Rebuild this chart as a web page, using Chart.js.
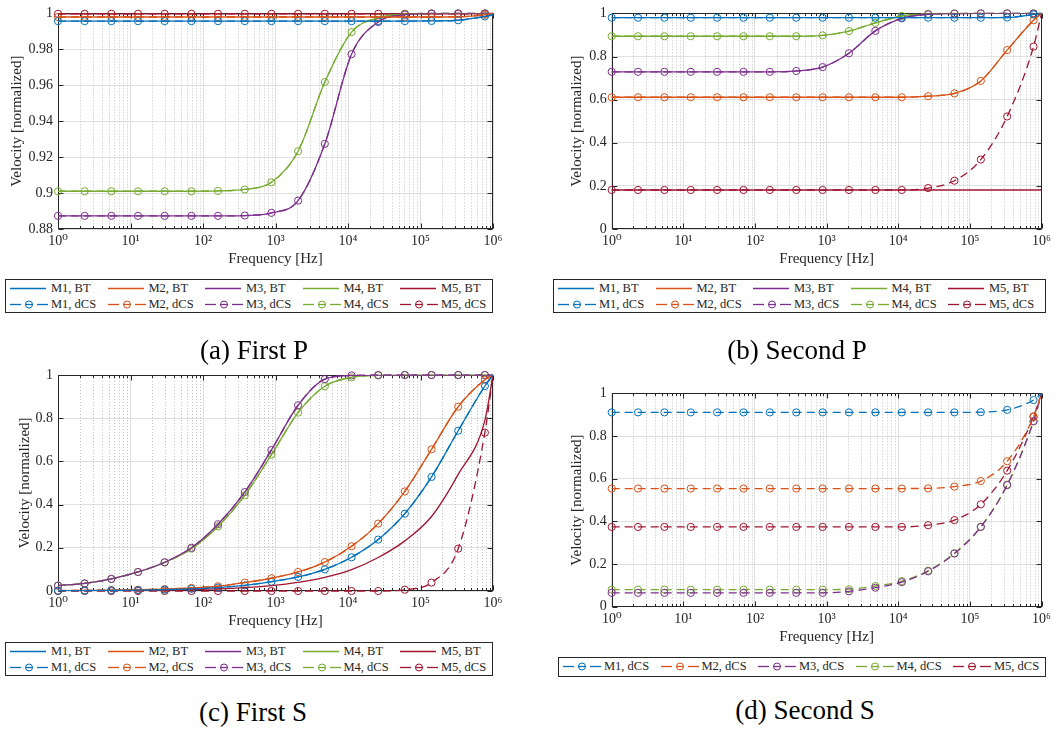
<!DOCTYPE html>
<html>
<head>
<meta charset="utf-8">
<script src="https://cdn.jsdelivr.net/npm/chart.js@4.4.1/dist/chart.umd.min.js"></script>
<style>
  body { margin: 0; background: #fff; }
  #page { position: relative; width: 1055px; height: 730px; overflow: hidden; font-family: 'Liberation Serif', 'DejaVu Serif', serif; color: #262626; }
  .plot { position: absolute; }
  .legend { position: absolute; border: 1px solid #262626; background: #fff; box-sizing: border-box; display: grid; grid-template-columns: repeat(5, 97.5px); padding: 1px 0 0 4px; font-size: 12.5px; }
  .item { display: flex; align-items: center; height: 15px; white-space: nowrap; }
  .item svg { margin-right: 3px; flex: none; }
  .caption { position: absolute; width: 400px; text-align: center; font-size: 27px; line-height: 30px; color: #000; }
</style>
</head>
<body>
<div id="page">
  <div class="plot" style="left:0;top:0;"><canvas id="chartA" width="510" height="268"></canvas></div>
  <div class="plot" style="left:530px;top:0;"><canvas id="chartB" width="525" height="268"></canvas></div>
  <div class="plot" style="left:0;top:360px;"><canvas id="chartC" width="510" height="270"></canvas></div>
  <div class="plot" style="left:530px;top:380px;"><canvas id="chartD" width="525" height="266"></canvas></div>

  <div class="legend" id="legendA" style="left:5px;top:279px;width:488px;height:34px;"></div>
  <div class="legend" id="legendB" style="left:553px;top:279px;width:493px;height:34px;"></div>
  <div class="legend" id="legendC" style="left:5px;top:642px;width:488px;height:34px;"></div>
  <div class="legend" id="legendD" style="left:558px;top:657px;width:488px;height:20px;"></div>

  <div class="caption" style="left:54px;top:335px;">(a) First P</div>
  <div class="caption" style="left:597px;top:335px;">(b) Second P</div>
  <div class="caption" style="left:53px;top:697px;">(c) First S</div>
  <div class="caption" style="left:605px;top:695px;">(d) Second S</div>
</div>

<script>
// frequencies of the markers (last entry is the curve end at 1e6, no marker)
var freqs = [1, 2.33, 5.44, 12.7, 29.6, 69.2, 161, 377, 879, 2050, 4790, 11200, 26100, 60800, 142000, 331000, 773000, 1000000];
var markerCount = 17;

var decadeTicks = [1, 10, 100, 1000, 10000, 100000, 1000000];
var xTickLabels = ['10⁰', '10¹', '10²', '10³', '10⁴', '10⁵', '10⁶'];
var yTicksA = [0.88, 0.9, 0.92, 0.94, 0.96, 0.98, 1];
var yTickLabelsA = ['0.88', '0.9', '0.92', '0.94', '0.96', '0.98', '1'];
var yTicksUnit = [0, 0.2, 0.4, 0.6, 0.8, 1];
var yTickLabelsUnit = ['0', '0.2', '0.4', '0.6', '0.8', '1'];

var names = ['M1', 'M2', 'M3', 'M4', 'M5'];
var colors = ['#0072BD', '#D95319', '#7E2F8E', '#77AC30', '#A2142F'];

// (a) First P
var aM1bt  = [0.9957, 0.9957, 0.9957, 0.9957, 0.9957, 0.9957, 0.9957, 0.9957, 0.9957, 0.9957, 0.9957, 0.9957, 0.9957, 0.9957, 0.9958, 0.9962, 0.9983, 0.9992];
var aM2bt  = [0.998, 0.998, 0.998, 0.998, 0.998, 0.998, 0.998, 0.998, 0.998, 0.998, 0.998, 0.998, 0.998, 0.998, 0.998, 0.9981, 0.9992, 1];
var aM3bt  = [0.8873, 0.8873, 0.8873, 0.8873, 0.8873, 0.8873, 0.8873, 0.8875, 0.889, 0.8958, 0.9274, 0.9773, 0.9952, 0.9993, 1, 1, 1, 1];
var aM4bt  = [0.901, 0.901, 0.901, 0.901, 0.901, 0.901, 0.9012, 0.902, 0.906, 0.9233, 0.9618, 0.9896, 0.9976, 0.9997, 1, 1, 1, 1];
var aM5bt  = [0.9998, 0.9998, 0.9998, 0.9998, 0.9998, 0.9998, 0.9998, 0.9998, 0.9998, 0.9998, 0.9998, 0.9998, 0.9998, 0.9998, 0.9998, 0.9998, 0.9999, 1];
var aM1dcs = [0.9957, 0.9957, 0.9957, 0.9957, 0.9957, 0.9957, 0.9957, 0.9957, 0.9957, 0.9957, 0.9957, 0.9957, 0.9957, 0.9957, 0.9958, 0.9962, 0.9983, 0.9992];
var aM2dcs = [0.998, 0.998, 0.998, 0.998, 0.998, 0.998, 0.998, 0.998, 0.998, 0.998, 0.998, 0.998, 0.998, 0.998, 0.998, 0.9981, 0.9992, 1];
var aM3dcs = [0.8873, 0.8873, 0.8873, 0.8873, 0.8873, 0.8873, 0.8873, 0.8875, 0.889, 0.8958, 0.9274, 0.9773, 0.9952, 0.9993, 1, 1, 1, 1];
var aM4dcs = [0.901, 0.901, 0.901, 0.901, 0.901, 0.901, 0.9012, 0.902, 0.906, 0.9233, 0.9618, 0.9896, 0.9976, 0.9997, 1, 1, 1, 1];
var aM5dcs = [0.9998, 0.9998, 0.9998, 0.9998, 0.9998, 0.9998, 0.9998, 0.9998, 0.9998, 0.9998, 0.9998, 0.9998, 0.9998, 0.9998, 0.9998, 0.9998, 0.9999, 1];

// (b) Second P
var bM1bt  = [0.98, 0.98, 0.98, 0.98, 0.98, 0.98, 0.98, 0.98, 0.98, 0.98, 0.98, 0.98, 0.98, 0.98, 0.98, 0.981, 0.995, 1];
var bM2bt  = [0.611, 0.611, 0.611, 0.611, 0.611, 0.611, 0.611, 0.611, 0.611, 0.611, 0.611, 0.611, 0.616, 0.629, 0.687, 0.83, 0.968, 1];
var bM3bt  = [0.729, 0.729, 0.729, 0.729, 0.729, 0.729, 0.729, 0.733, 0.751, 0.815, 0.919, 0.977, 0.996, 0.999, 1, 1, 1, 1];
var bM4bt  = [0.894, 0.894, 0.894, 0.894, 0.894, 0.894, 0.894, 0.894, 0.898, 0.918, 0.956, 0.988, 0.998, 1, 1, 1, 1, 1];
var bM5bt  = [0.181, 0.181, 0.181, 0.181, 0.181, 0.181, 0.181, 0.181, 0.181, 0.181, 0.181, 0.181, 0.181, 0.181, 0.181, 0.181, 0.181, 0.181];
var bM1dcs = [0.98, 0.98, 0.98, 0.98, 0.98, 0.98, 0.98, 0.98, 0.98, 0.98, 0.98, 0.98, 0.98, 0.98, 0.98, 0.981, 0.995, 1];
var bM2dcs = [0.611, 0.611, 0.611, 0.611, 0.611, 0.611, 0.611, 0.611, 0.611, 0.611, 0.611, 0.611, 0.616, 0.629, 0.687, 0.83, 0.968, 1];
var bM3dcs = [0.729, 0.729, 0.729, 0.729, 0.729, 0.729, 0.729, 0.733, 0.751, 0.815, 0.919, 0.977, 0.996, 0.999, 1, 1, 1, 1];
var bM4dcs = [0.894, 0.894, 0.894, 0.894, 0.894, 0.894, 0.894, 0.894, 0.898, 0.918, 0.956, 0.988, 0.998, 1, 1, 1, 1, 1];
var bM5dcs = [0.181, 0.181, 0.181, 0.181, 0.181, 0.181, 0.181, 0.181, 0.181, 0.181, 0.181, 0.181, 0.19, 0.224, 0.322, 0.522, 0.846, 1];

// (c) First S
var cM1bt  = [0.001, 0.002, 0.003, 0.004, 0.006, 0.01, 0.016, 0.026, 0.043, 0.065, 0.1, 0.156, 0.238, 0.358, 0.528, 0.742, 0.949, 1];
var cM2bt  = [0.002, 0.003, 0.004, 0.006, 0.009, 0.014, 0.022, 0.039, 0.059, 0.088, 0.134, 0.207, 0.312, 0.461, 0.656, 0.853, 0.978, 1];
var cM3bt  = [0.025, 0.035, 0.056, 0.088, 0.133, 0.2, 0.309, 0.458, 0.653, 0.86, 0.981, 0.998, 1, 1, 1, 1, 1, 1];
var cM4bt  = [0.025, 0.035, 0.056, 0.088, 0.132, 0.196, 0.299, 0.443, 0.631, 0.826, 0.948, 0.989, 0.998, 1, 1, 1, 1, 1];
var cM5bt  = [0, 0.001, 0.002, 0.003, 0.004, 0.006, 0.01, 0.016, 0.025, 0.04, 0.063, 0.099, 0.155, 0.232, 0.345, 0.54, 0.79, 1];
var cM1dcs = [0.001, 0.002, 0.003, 0.004, 0.006, 0.01, 0.016, 0.026, 0.043, 0.065, 0.1, 0.156, 0.238, 0.358, 0.528, 0.742, 0.949, 1];
var cM2dcs = [0.002, 0.003, 0.004, 0.006, 0.009, 0.014, 0.022, 0.039, 0.059, 0.088, 0.134, 0.207, 0.312, 0.461, 0.656, 0.853, 0.978, 1];
var cM3dcs = [0.025, 0.035, 0.056, 0.088, 0.133, 0.2, 0.309, 0.458, 0.653, 0.86, 0.981, 0.998, 1, 1, 1, 1, 1, 1];
var cM4dcs = [0.025, 0.035, 0.056, 0.088, 0.132, 0.196, 0.299, 0.443, 0.631, 0.826, 0.948, 0.989, 0.998, 1, 1, 1, 1, 1];
var cM5dcs = [0, 0, 0, 0, 0, 0, 0, 0, 0, 0, 0, 0, 0, 0.006, 0.039, 0.196, 0.733, 1];

// (d) Second S (dCS only)
var dM1dcs = [0.911, 0.911, 0.911, 0.911, 0.911, 0.911, 0.911, 0.911, 0.911, 0.911, 0.911, 0.911, 0.911, 0.911, 0.912, 0.923, 0.969, 1];
var dM2dcs = [0.554, 0.554, 0.554, 0.554, 0.554, 0.554, 0.554, 0.554, 0.554, 0.554, 0.554, 0.554, 0.555, 0.563, 0.589, 0.682, 0.89, 1];
var dM3dcs = [0.065, 0.065, 0.065, 0.065, 0.065, 0.065, 0.065, 0.065, 0.065, 0.072, 0.089, 0.115, 0.166, 0.249, 0.374, 0.57, 0.87, 1];
var dM4dcs = [0.08, 0.08, 0.08, 0.08, 0.08, 0.08, 0.08, 0.08, 0.08, 0.082, 0.097, 0.12, 0.169, 0.251, 0.375, 0.572, 0.869, 1];
var dM5dcs = [0.374, 0.374, 0.374, 0.374, 0.374, 0.374, 0.374, 0.374, 0.374, 0.374, 0.374, 0.374, 0.382, 0.406, 0.48, 0.638, 0.892, 1];

var tickFont = { family: "'Liberation Serif', 'DejaVu Serif', serif", size: 14 };
var titleFont = { family: "'Liberation Serif', 'DejaVu Serif', serif", size: 15 };
var axisColor = '#262626';
var gridColor = '#e0e0e0';

function pts(vals) {
  return freqs.map(function (f, i) { return { x: f, y: vals[i] }; });
}

function btSet(i, vals) {
  return {
    label: names[i] + ', BT', data: pts(vals), showLine: true,
    borderColor: colors[i], borderWidth: 1.3, pointRadius: 0,
    cubicInterpolationMode: 'monotone'
  };
}

function dcsSet(i, vals) {
  return {
    label: names[i] + ', dCS', data: pts(vals), showLine: true,
    borderColor: colors[i], borderWidth: 1.3, borderDash: [8, 5],
    pointRadius: function (c) { return c.dataIndex < markerCount ? 3.6 : 0; },
    pointBorderWidth: 1, pointBorderColor: colors[i], pointBackgroundColor: 'rgba(0,0,0,0)',
    cubicInterpolationMode: 'monotone', clip: false
  };
}

// MATLAB style box, minor dotted grid and inward ticks
var matlabAxes = {
  id: 'matlabAxes',
  beforeDatasetsDraw: function (chart) {
    var ctx = chart.ctx, a = chart.chartArea, xs = chart.scales.x, ys = chart.scales.y;
    var l = Math.round(a.left) + 0.5, r = Math.round(a.right) - 0.5, t = Math.round(a.top) + 0.5, b = Math.round(a.bottom) - 0.5;
    ctx.save();
    ctx.lineWidth = 1;
    ctx.strokeStyle = '#c4c4c4';
    ctx.setLineDash([1, 2]);
    var d, k, px, py;
    for (d = 0; d < 6; d++) {
      for (k = 2; k < 10; k++) {
        px = Math.round(xs.getPixelForValue(k * Math.pow(10, d))) + 0.5;
        ctx.beginPath(); ctx.moveTo(px, a.top); ctx.lineTo(px, a.bottom); ctx.stroke();
      }
    }
    ctx.setLineDash([]);
    ctx.strokeStyle = axisColor;
    ctx.beginPath();
    for (d = 0; d <= 6; d++) {
      px = Math.round(xs.getPixelForValue(Math.pow(10, d))) + 0.5;
      ctx.moveTo(px, b); ctx.lineTo(px, b - 5);
      ctx.moveTo(px, t); ctx.lineTo(px, t + 5);
      if (d < 6) {
        for (k = 2; k < 10; k++) {
          px = Math.round(xs.getPixelForValue(k * Math.pow(10, d))) + 0.5;
          ctx.moveTo(px, b); ctx.lineTo(px, b - 2.5);
          ctx.moveTo(px, t); ctx.lineTo(px, t + 2.5);
        }
      }
    }
    ys.ticks.forEach(function (tk) {
      py = Math.round(ys.getPixelForValue(tk.value)) + 0.5;
      ctx.moveTo(l, py); ctx.lineTo(l + 5, py);
      ctx.moveTo(r, py); ctx.lineTo(r - 5, py);
    });
    ctx.stroke();
    ctx.strokeRect(l, t, r - l, b - t);
    ctx.restore();
  }
};

function makeChart(canvasId, cfg) {
  return new Chart(document.getElementById(canvasId), {
    type: 'scatter',
    data: { datasets: cfg.datasets },
    options: {
      responsive: false, animation: false, events: [],
      layout: { padding: cfg.padding },
      plugins: { legend: { display: false }, tooltip: { enabled: false } },
      scales: {
        x: {
          type: 'logarithmic', min: 1, max: 1000000,
          afterBuildTicks: function (s) { s.ticks = decadeTicks.map(function (v) { return { value: v }; }); },
          afterFit: function (s) { s.height = cfg.xHeight; },
          ticks: { autoSkip: false, maxRotation: 0, padding: 4, color: axisColor, font: tickFont,
            callback: function (v, i) { return xTickLabels[i]; } },
          grid: { color: gridColor, drawTicks: false },
          border: { display: false },
          title: { display: true, text: 'Frequency [Hz]', color: axisColor, font: titleFont, padding: 0 }
        },
        y: {
          type: 'linear', min: cfg.yTicks[0], max: cfg.yTicks[cfg.yTicks.length - 1],
          afterBuildTicks: function (s) { s.ticks = cfg.yTicks.map(function (v) { return { value: v }; }); },
          afterFit: function (s) { s.width = cfg.yWidth; },
          ticks: { padding: 5, color: axisColor, font: tickFont,
            callback: function (v, i) { return cfg.yLabels[i]; } },
          grid: { color: gridColor, drawTicks: false },
          border: { display: false },
          title: { display: true, text: 'Velocity [normalized]', color: axisColor, font: titleFont, padding: 0 }
        }
      }
    },
    plugins: [matlabAxes]
  });
}

function buildLegend(chart, boxId) {
  var box = document.getElementById(boxId);
  chart.data.datasets.forEach(function (ds) {
    var c = ds.borderColor, svg;
    if (ds.borderDash) {
      svg = '<svg width="38" height="15">' +
        '<line x1="0" y1="7.5" x2="11" y2="7.5" stroke="' + c + '" stroke-width="1.3"/>' +
        '<line x1="15" y1="7.5" x2="23" y2="7.5" stroke="' + c + '" stroke-width="1.3"/>' +
        '<circle cx="19" cy="7.5" r="3.5" fill="none" stroke="' + c + '" stroke-width="1"/>' +
        '<line x1="27" y1="7.5" x2="38" y2="7.5" stroke="' + c + '" stroke-width="1.3"/></svg>';
    } else {
      svg = '<svg width="38" height="15"><line x1="0" y1="7.5" x2="36" y2="7.5" stroke="' + c + '" stroke-width="1.3"/></svg>';
    }
    box.innerHTML += '<div class="item">' + svg + '<span>' + ds.label + '</span></div>';
  });
}

var chartA = makeChart('chartA', {
  padding: { left: 8, top: 12, right: 17, bottom: 0 }, yWidth: 50, xHeight: 39,
  yTicks: yTicksA, yLabels: yTickLabelsA,
  datasets: [btSet(0, aM1bt), btSet(1, aM2bt), btSet(2, aM3bt), btSet(3, aM4bt), btSet(4, aM5bt),
    dcsSet(0, aM1dcs), dcsSet(1, aM2dcs), dcsSet(2, aM3dcs), dcsSet(3, aM4dcs), dcsSet(4, aM5dcs)]
});
var chartB = makeChart('chartB', {
  padding: { left: 38, top: 11.7, right: 12.3, bottom: 0 }, yWidth: 43.7, xHeight: 39,
  yTicks: yTicksUnit, yLabels: yTickLabelsUnit,
  datasets: [btSet(0, bM1bt), btSet(1, bM2bt), btSet(2, bM3bt), btSet(3, bM4bt), btSet(4, bM5bt),
    dcsSet(0, bM1dcs), dcsSet(1, bM2dcs), dcsSet(2, bM3dcs), dcsSet(3, bM4dcs), dcsSet(4, bM5dcs)]
});
var chartC = makeChart('chartC', {
  padding: { left: 16, top: 15, right: 17, bottom: 0 }, yWidth: 42, xHeight: 39,
  yTicks: yTicksUnit, yLabels: yTickLabelsUnit,
  datasets: [btSet(0, cM1bt), btSet(1, cM2bt), btSet(2, cM3bt), btSet(3, cM4bt), btSet(4, cM5bt),
    dcsSet(0, cM1dcs), dcsSet(1, cM2dcs), dcsSet(2, cM3dcs), dcsSet(3, cM4dcs), dcsSet(4, cM5dcs)]
});
var chartD = makeChart('chartD', {
  padding: { left: 38, top: 10, right: 12.3, bottom: 0 }, yWidth: 43.7, xHeight: 39.3,
  yTicks: yTicksUnit, yLabels: yTickLabelsUnit,
  datasets: [dcsSet(0, dM1dcs), dcsSet(1, dM2dcs), dcsSet(2, dM3dcs), dcsSet(3, dM4dcs), dcsSet(4, dM5dcs)]
});

buildLegend(chartA, 'legendA');
buildLegend(chartB, 'legendB');
buildLegend(chartC, 'legendC');
buildLegend(chartD, 'legendD');
</script>
</body>
</html>
